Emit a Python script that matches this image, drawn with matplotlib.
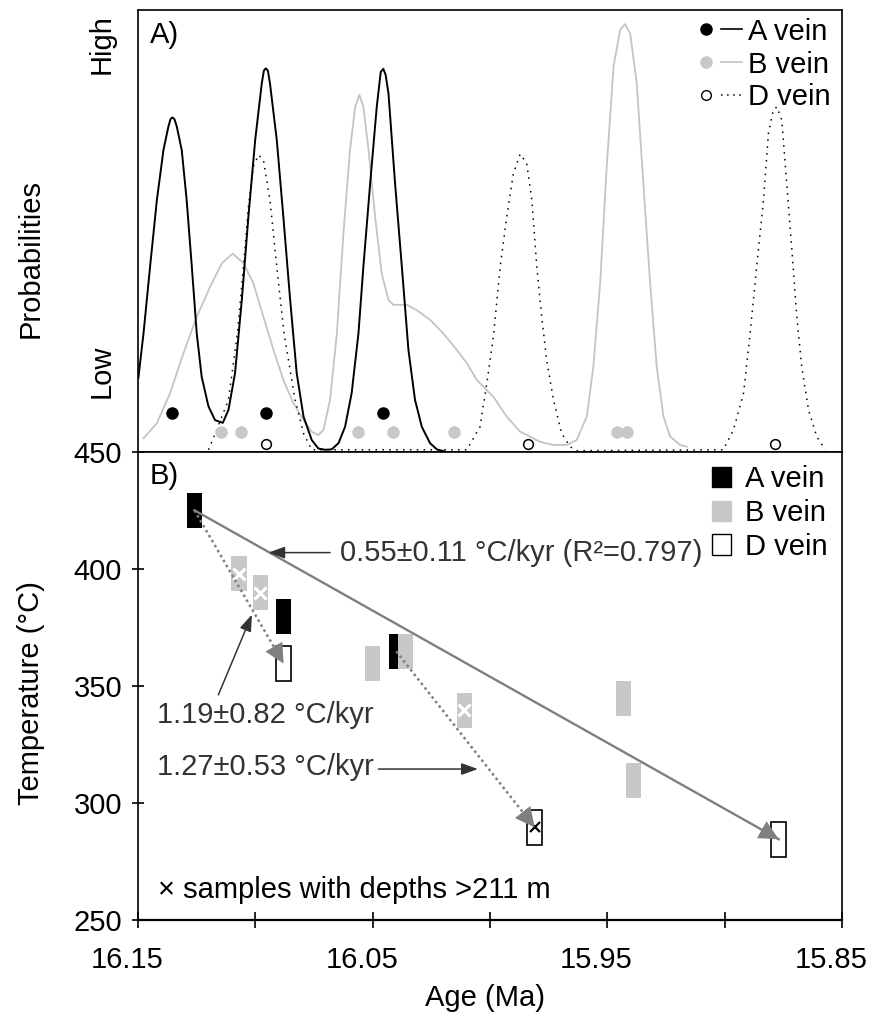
import numpy as np
import matplotlib
matplotlib.use('Agg')
import matplotlib.pyplot as plt
from matplotlib.lines import Line2D
from matplotlib.patches import Patch
from matplotlib.legend_handler import HandlerTuple
from matplotlib.transforms import ScaledTranslation

plt.rcParams['font.family'] = ['Liberation Sans', 'DejaVu Sans']
plt.rcParams['font.size'] = 21

GREY = '#c8c8c8'
TREND = '#7f7f7f'
TXT = '#333333'

# ---- panel A: relative age probability curves ----
a_curve_age = [16.1499, 16.1477, 16.1449, 16.1420, 16.1392, 16.1371, 16.1362, 16.1354, 16.1345, 16.1335,
               16.1314, 16.1293, 16.1271, 16.1250, 16.1229, 16.1200, 16.1172, 16.1139, 16.1115, 16.1087,
               16.1058, 16.1030, 16.1001, 16.0973, 16.0964, 16.0956, 16.0947, 16.0938, 16.0909, 16.0881,
               16.0852, 16.0824, 16.0795, 16.0760, 16.0732, 16.0703, 16.0675, 16.0646, 16.0618, 16.0590,
               16.0561, 16.0540, 16.0511, 16.0483, 16.0466, 16.0455, 16.0445, 16.0433, 16.0405, 16.0376,
               16.0348, 16.0320, 16.0291, 16.0256, 16.0227, 16.0192]
a_curve_p = [0.167, 0.268, 0.419, 0.570, 0.683, 0.736, 0.753, 0.757, 0.753, 0.736,
             0.683, 0.570, 0.419, 0.268, 0.170, 0.103, 0.072, 0.066, 0.095, 0.178,
             0.344, 0.532, 0.706, 0.834, 0.863, 0.868, 0.863, 0.834, 0.706, 0.532,
             0.344, 0.178, 0.080, 0.027, 0.008, 0.005, 0.006, 0.020, 0.057, 0.133,
             0.268, 0.419, 0.608, 0.781, 0.860, 0.867, 0.853, 0.811, 0.608, 0.419,
             0.231, 0.118, 0.057, 0.020, 0.006, 0.001]

b_curve_age = [16.1477, 16.1420, 16.1364, 16.1307, 16.1250, 16.1193, 16.1143, 16.1097, 16.1051, 16.1009,
               16.0966, 16.0923, 16.0881, 16.0838, 16.0795, 16.0760, 16.0732, 16.0710, 16.0682, 16.0653,
               16.0625, 16.0597, 16.0575, 16.0557, 16.0540, 16.0518, 16.0490, 16.0462, 16.0433, 16.0412,
               16.0355, 16.0313, 16.0256, 16.0199, 16.0142, 16.0099, 16.0057, 15.9986, 15.9929, 15.9872,
               15.9787, 15.9730, 15.9673, 15.9631, 15.9588, 15.9560, 15.9531, 15.9503, 15.9474, 15.9446,
               15.9425, 15.9403, 15.9375, 15.9347, 15.9318, 15.9290, 15.9261, 15.9233, 15.9190, 15.9162]
b_curve_p = [0.031, 0.065, 0.133, 0.223, 0.306, 0.374, 0.427, 0.449, 0.427, 0.382,
             0.306, 0.231, 0.163, 0.110, 0.072, 0.046, 0.038, 0.050, 0.118, 0.268,
             0.495, 0.683, 0.781, 0.808, 0.781, 0.683, 0.532, 0.404, 0.344, 0.333,
             0.333, 0.321, 0.299, 0.268, 0.231, 0.201, 0.163, 0.125, 0.080, 0.046,
             0.023, 0.016, 0.016, 0.027, 0.080, 0.193, 0.382, 0.646, 0.872, 0.955,
             0.968, 0.947, 0.834, 0.608, 0.382, 0.193, 0.080, 0.035, 0.016, 0.012]

d_curve_age = [16.1200, 16.1165, 16.1115, 16.1077, 16.1051, 16.1030, 16.1009, 16.0987, 16.0966, 16.0938,
               16.0909, 16.0878, 16.0831, 16.0795, 16.0760,
               16.0099, 16.0043, 16.0014, 15.9986, 15.9957, 15.9929, 15.9901, 15.9872, 15.9844, 15.9822,
               15.9801, 15.9780, 15.9759, 15.9730, 15.9695, 15.9659, 15.9631,
               15.9006, 15.8963, 15.8920, 15.8892, 15.8864, 15.8835, 15.8814, 15.8793, 15.8778, 15.8757,
               15.8736, 15.8714, 15.8693, 15.8672, 15.8643, 15.8608, 15.8572]
d_curve_p = [0.005, 0.050, 0.118, 0.268, 0.419, 0.555, 0.646, 0.672, 0.661, 0.570,
             0.419, 0.268, 0.118, 0.042, 0.005,
             0.005, 0.057, 0.155, 0.261, 0.419, 0.532, 0.630, 0.674, 0.653, 0.570,
             0.419, 0.306, 0.208, 0.118, 0.042, 0.012, 0.003,
             0.005, 0.050, 0.133, 0.268, 0.419, 0.570, 0.721, 0.774, 0.781, 0.751,
             0.608, 0.457, 0.306, 0.193, 0.095, 0.035, 0.005]

# single sample ages shown as dots under the curves
a_dot_age = [16.1354, 16.0956, 16.0455]
b_dot_age = [16.1148, 16.1063, 16.0561, 16.0415, 16.0153, 15.9460, 15.9418]
d_dot_age = [16.0955, 15.9837, 15.8786]

# ---- panel B: temperature vs age ----
a_age = [16.126, 16.088, 16.040]
a_temp = [425.1, 379.8, 364.8]
b_age = [16.107, 16.098, 16.050, 16.036, 16.011, 15.943, 15.939]
b_temp = [398.0, 389.8, 359.6, 364.8, 339.7, 344.7, 309.5]
b_deep = [True, True, False, False, True, False, False]
d_age = [16.088, 15.981, 15.877]
d_temp = [359.6, 289.6, 284.5]
d_deep = [False, True, False]

x_ticks = [16.15, 16.10, 16.05, 16.00, 15.95, 15.90, 15.85]
x_labels = ['16.15', '', '16.05', '', '15.95', '', '15.85']
y_ticks = [250, 300, 350, 400, 450]

fig = plt.figure(figsize=(8.74, 10.24), dpi=100)
ax_a = fig.add_axes([0.158, 0.5586, 0.8055, 0.4316])
ax_b = fig.add_axes([0.158, 0.1016, 0.8055, 0.457])

# panel A
ax_a.plot(b_curve_age, b_curve_p, color='#c4c4c4', lw=1.3)
ax_a.plot(a_curve_age, a_curve_p, color='black', lw=1.4)
ax_a.plot(d_curve_age, d_curve_p, color='black', lw=1.1, ls=(0, (1, 3.5)))
ax_a.plot(a_dot_age, [0.0875] * len(a_dot_age), 'o', color='black', ms=8)
ax_a.plot(b_dot_age, [0.0445] * len(b_dot_age), 'o', color=GREY, ms=8)
ax_a.plot(d_dot_age, [0.018] * len(d_dot_age), 'o', mfc='white', mec='black', mew=1.1, ms=7)
ax_a.set_xlim(16.15, 15.85)
ax_a.set_ylim(0, 1)
ax_a.tick_params(left=False, bottom=False, labelleft=False, labelbottom=False)
for s in ax_a.spines.values():
    s.set_linewidth(1.2)
ax_a.text(0.017, 0.975, 'A)', transform=ax_a.transAxes, va='top', ha='left')

h_a = (Line2D([], [], marker='o', color='black', ls='none', ms=8),
       Line2D([], [], color='black', lw=1.2))
h_b = (Line2D([], [], marker='o', color=GREY, ls='none', ms=8),
       Line2D([], [], color='#c4c4c4', lw=1.2))
h_d = (Line2D([], [], marker='o', mfc='white', mec='black', ls='none', ms=7),
       Line2D([], [], color='black', lw=1.1, ls=(0, (1, 3))))
ax_a.legend([h_a, h_b, h_d], ['A vein', 'B vein', 'D vein'],
            handler_map={tuple: HandlerTuple(ndivide=None, pad=0.15)},
            loc='upper left', bbox_to_anchor=(0.792, 0.983), frameon=False,
            handlelength=1.6, handletextpad=0.2, labelspacing=0.17,
            borderaxespad=0, borderpad=0)

# panel B
bw = 0.0064
bh = 15
ax_b.bar(a_age, bh, bottom=np.array(a_temp) - bh / 2, width=bw, color='black')
ax_b.bar(b_age, bh, bottom=np.array(b_temp) - bh / 2, width=bw, color=GREY)
ax_b.bar(d_age, bh, bottom=np.array(d_temp) - bh / 2, width=bw, facecolor='white',
         edgecolor='black', lw=1.2)

bx = [x for x, deep in zip(b_age, b_deep) if deep]
by = [y for y, deep in zip(b_temp, b_deep) if deep]
ax_b.plot(bx, by, 'x', color='white', ms=8, mew=2.2)
dx = [x for x, deep in zip(d_age, d_deep) if deep]
dy = [y for y, deep in zip(d_temp, d_deep) if deep]
ax_b.plot(dx, dy, 'x', color='black', ms=7, mew=1.6)

# cooling trends from A vein to D vein samples
trends = [(a_age[0], a_temp[0], d_age[2], d_temp[2], '-'),
          (a_age[0], a_temp[0], d_age[0], d_temp[0], ':'),
          (a_age[2], a_temp[2], d_age[1], d_temp[1], ':')]
for x0, y0, x1, y1, ls in trends:
    if ls == '-':
        ax_b.plot([x0, x1], [y0, y1], color=TREND, lw=1.7)
    else:
        ax_b.plot([x0, x1], [y0, y1], color=TREND, lw=1.8, ls=(0, (1, 1.3)))
    ax_b.annotate('', xy=(x1, y1), xytext=(x0, y0),
                  arrowprops=dict(arrowstyle='-|>,head_length=0.7,head_width=0.35',
                                  color=TREND, lw=0, shrinkA=0, shrinkB=0, mutation_scale=20))

arrow_kw = dict(arrowstyle='-|>,head_length=0.5,head_width=0.18', color=TXT, lw=1.1,
                shrinkA=0, shrinkB=0, mutation_scale=20)
ax_b.annotate('', xy=(16.0945, 407.0), xytext=(16.0682, 407.0), arrowprops=arrow_kw)
ax_b.text(16.0639, 407.0, '0.55±0.11 °C/kyr (R²=0.797)', va='center', ha='left', color=TXT)
ax_b.annotate('', xy=(16.1015, 380.5), xytext=(16.1158, 346.2), arrowprops=arrow_kw)
ax_b.text(16.142, 337.7, '1.19±0.82 °C/kyr', va='center', ha='left', color=TXT)
ax_b.annotate('', xy=(16.0052, 314.5), xytext=(16.0476, 314.5), arrowprops=arrow_kw)
ax_b.text(16.142, 315.5, '1.27±0.53 °C/kyr', va='center', ha='left', color=TXT)
ax_b.text(16.1415, 263, '× samples with depths >211 m', va='center', ha='left', color='black')
ax_b.text(0.017, 0.978, 'B)', transform=ax_b.transAxes, va='top', ha='left')

ax_b.set_xlim(16.15, 15.85)
ax_b.set_ylim(250, 450)
ax_b.set_xticks(x_ticks)
ax_b.set_xticklabels(x_labels)
ax_b.set_yticks(y_ticks)
ax_b.tick_params(axis='x', direction='inout', length=12, width=1.2, pad=13)
ax_b.tick_params(axis='y', direction='inout', length=9, width=1.2, pad=7)
shift = ScaledTranslation(-11 / 100, 0, fig.dpi_scale_trans)
for lab in ax_b.get_xticklabels():
    lab.set_transform(lab.get_transform() + shift)
for s in ax_b.spines.values():
    s.set_linewidth(1.2)
ax_b.spines['bottom'].set_linewidth(1.6)

ax_b.legend([Patch(facecolor='black', edgecolor='black'),
             Patch(facecolor=GREY, edgecolor=GREY),
             Patch(facecolor='white', edgecolor='black')],
            ['A vein', 'B vein', 'D vein'], loc='upper left', bbox_to_anchor=(0.815, 0.972),
            frameon=False, handlelength=0.65, handleheight=0.7, handletextpad=0.48,
            labelspacing=0.2, borderaxespad=0, borderpad=0)

fig.text(0.0355, 0.3232, 'Temperature (°C)', rotation=90, ha='center', va='center')
fig.text(0.0355, 0.748, 'Probabilities', rotation=90, ha='center', va='center')
fig.text(0.1163, 0.957, 'High', rotation=90, ha='center', va='center')
fig.text(0.1163, 0.637, 'Low', rotation=90, ha='center', va='center')
fig.text(0.555, 1 - 998 / 1024, 'Age (Ma)', ha='center', va='center')

fig.savefig('out.png', dpi=100)
